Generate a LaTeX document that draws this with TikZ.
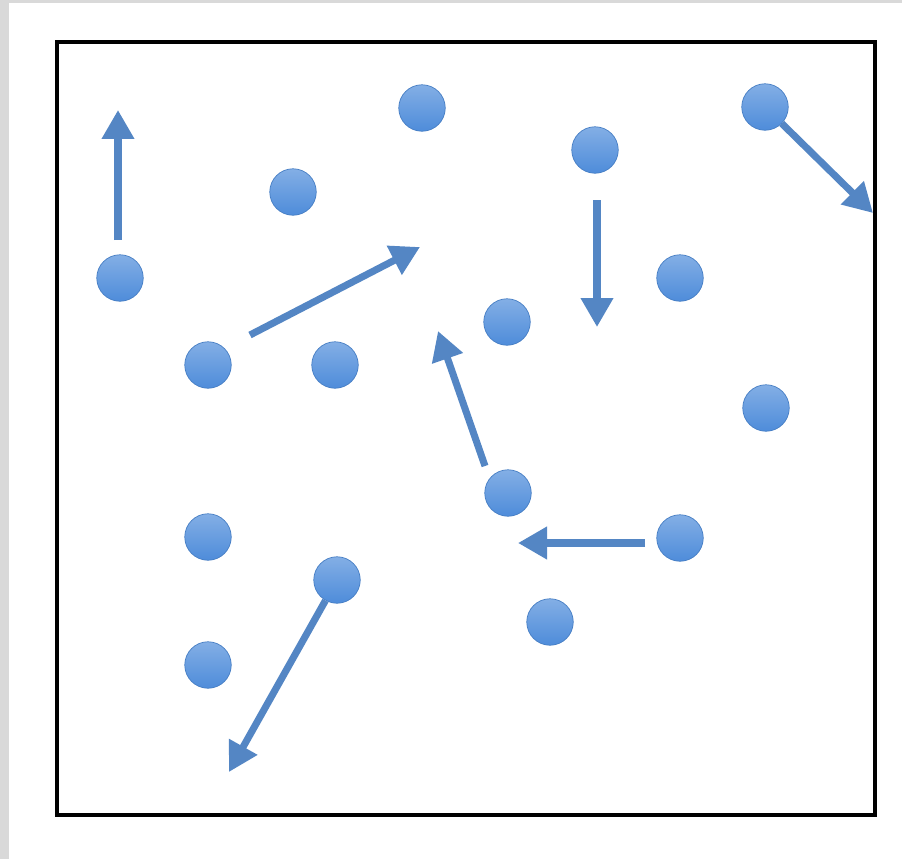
\documentclass[tikz,border=0pt]{standalone}
\usepackage{tikz}
\usetikzlibrary{arrows.meta}
\usepackage{xcolor}
\definecolor{dotblue}{RGB}{78,140,218}
\definecolor{arrowblue}{RGB}{84,134,196}
\definecolor{framegray}{RGB}{217,217,217}
\tikzset{
  particle/.style={circle,inner sep=0pt,minimum size=0.93cm,top color=dotblue!70!white,bottom color=dotblue,draw=dotblue!90!black,line width=0.4pt},
  move/.style={arrowblue,line width=4pt,-{Triangle[length=5.8mm,width=6.2mm]}}
}
\begin{document}
\begin{tikzpicture}[x=0.02cm,y=-0.02cm]
\useasboundingbox (0,0) rectangle (902,859);
\fill[framegray] (0,0) rectangle (902,859);
\fill[white] (9,3) rectangle (902,859);
\draw[line width=2.6pt] (57,42) rectangle (875,815);
% particles
\node[particle] (p1) at (422,108) {};
\node[particle] (p2) at (595,150) {};
\node[particle] (p3) at (765,107) {};
\node[particle] (p4) at (293,192) {};
\node[particle] (p5) at (120,278) {};
\node[particle] (p6) at (680,278) {};
\node[particle] (p7) at (507,322) {};
\node[particle] (p8) at (208,365) {};
\node[particle] (p9) at (335,365) {};
\node[particle] (p10) at (766,408) {};
\node[particle] (p11) at (508,493) {};
\node[particle] (p12) at (208,537) {};
\node[particle] (p13) at (680,538) {};
\node[particle] (p14) at (337,580) {};
\node[particle] (p15) at (550,622) {};
\node[particle] (p16) at (208,665) {};
% velocity ends
\coordinate (a1) at (118,240);
\coordinate (b1) at (118,110);
\coordinate (a2) at (250,335);
\coordinate (b2) at (420,247);
\coordinate (a3) at (597,200);
\coordinate (b3) at (597,327);
\coordinate (b4) at (873,213);
\coordinate (a5) at (485,466);
\coordinate (b5) at (438,331);
\coordinate (a6) at (645,543);
\coordinate (b6) at (518,543);
\coordinate (b7) at (229,772);
% velocities
\draw[move] (a1) -- (b1);
\draw[move] (a2) -- (b2);
\draw[move] (a3) -- (b3);
\draw[move] (p3) -- (b4);
\draw[move] (a5) -- (b5);
\draw[move] (a6) -- (b6);
\draw[move] (p14) -- (b7);
\end{tikzpicture}
\end{document}
